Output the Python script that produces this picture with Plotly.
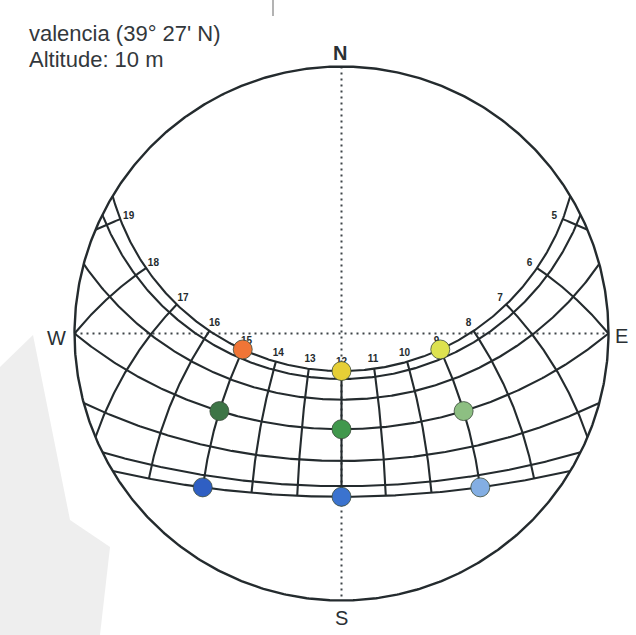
import numpy as np
import plotly.graph_objects as go

# Site and sun-path data (stereographic sun chart, solar time)
LATITUDE = 39.45                      # 39° 27' N
DAY_DECLINATIONS = [23.44, 20.1, 11.6, 0.0, -11.6, -20.1, -23.44]   # 21st of each month
HOURS = list(range(5, 20))
HOUR_LABELS = [str(h) for h in HOURS]

MARK_DECLINATIONS = [23.44, 23.44, 23.44, 0.0, 0.0, 0.0, -23.44, -23.44, -23.44]
MARK_HOURS = [9, 12, 15, 9, 12, 15, 9, 12, 15]
MARK_COLORS = ["#dde24f", "#e6cf36", "#f07536",
               "#8dbf82", "#40984c", "#3d7546",
               "#83aee3", "#3b73cf", "#2f5fc3"]

TITLE_LINES = ["valencia (39° 27' N)", "Altitude: 10 m"]
CARDINALS = ["N", "S", "E", "W"]

# Page geometry: horizon circle centre and radius in pixels
W_PX, H_PX = 636, 635
CX, CY, R = 341.5, 333.5, 267.0

LINE = "#242b2e"


def px(x, y):
    """pixel position -> data coordinates (horizon radius = 1)"""
    return (x - CX) / R, (CY - y) / R


def sun_xy(dec, hour):
    lat = np.radians(LATITUDE)
    d = np.radians(dec)
    h = np.radians((np.asarray(hour, dtype=float) - 12.0) * 15.0)
    east = -np.cos(d) * np.sin(h)
    north = np.cos(lat) * np.sin(d) - np.sin(lat) * np.cos(d) * np.cos(h)
    up = np.sin(lat) * np.sin(d) + np.cos(lat) * np.cos(d) * np.cos(h)
    return east / (1 + up), north / (1 + up), up


fig = go.Figure()

# cardinal axes (dotted)
fig.add_trace(go.Scatter(x=[0, 0], y=[1, -1], mode="lines",
                         line=dict(color="#3e4448", width=2, dash="2px,4px"),
                         hoverinfo="skip", showlegend=False))
fig.add_trace(go.Scatter(x=[-1, 1], y=[0, 0], mode="lines",
                         line=dict(color="#3e4448", width=2, dash="2px,4px"),
                         hoverinfo="skip", showlegend=False))

# day paths, from sunrise to sunset
lat_r = np.radians(LATITUDE)
for dec in DAY_DECLINATIONS:
    cos_h0 = -np.tan(lat_r) * np.tan(np.radians(dec))
    h0 = np.degrees(np.arccos(np.clip(cos_h0, -1, 1))) / 15.0
    hrs = np.linspace(12 - h0, 12 + h0, 400)
    x, y, _ = sun_xy(dec, hrs)
    fig.add_trace(go.Scatter(x=x, y=y, mode="lines",
                             line=dict(color=LINE, width=2.1),
                             hoverinfo="skip", showlegend=False))

# hour lines, between the solstices and clipped at the horizon
dmax, dmin = max(DAY_DECLINATIONS), min(DAY_DECLINATIONS)
for hr in HOURS:
    H = np.radians((hr - 12) * 15.0)
    d_h = np.degrees(np.arctan(-np.cos(H) / np.tan(lat_r)))
    lo = max(dmin, d_h)
    decs = np.linspace(lo, dmax, 200)
    x, y, _ = sun_xy(decs, np.full_like(decs, hr))
    fig.add_trace(go.Scatter(x=x, y=y, mode="lines",
                             line=dict(color=LINE, width=2.1),
                             hoverinfo="skip", showlegend=False))

# horizon
t = np.linspace(0, 2 * np.pi, 721)
fig.add_trace(go.Scatter(x=np.cos(t), y=np.sin(t), mode="lines",
                         line=dict(color=LINE, width=2.4),
                         hoverinfo="skip", showlegend=False))

# hour labels just north of the summer path
lx, ly = [], []
for hr in HOURS:
    x0, y0, _ = sun_xy(dmax, hr)
    x1, y1, _ = sun_xy(dmax + 2.0, hr)
    dx, dy = x1 - x0, y1 - y0
    n = np.hypot(dx, dy)
    off = 9.0 / R
    lx.append(float(x0 + dx / n * off))
    ly.append(float(y0 + dy / n * off))
fig.add_trace(go.Scatter(x=lx, y=ly, mode="text",
                         text=[f"<b>{s}</b>" for s in HOUR_LABELS],
                         textfont=dict(family="Arial", size=10, color="#242b2e"),
                         hoverinfo="skip", showlegend=False))

# marked sun positions
mx, my, _ = sun_xy(np.array(MARK_DECLINATIONS), np.array(MARK_HOURS))
fig.add_trace(go.Scatter(x=mx, y=my, mode="markers",
                         marker=dict(size=19, color=MARK_COLORS,
                                     line=dict(color="#3a4a3a", width=0.8)),
                         hoverinfo="skip", showlegend=False))

# cardinal letters
card_pos = {"N": (340, 53), "S": (341, 618), "E": (621, 336), "W": (56, 338)}
for c in CARDINALS:
    x, y = px(*card_pos[c])
    txt = f"<b>{c}</b>" if c == "N" else c
    fig.add_annotation(x=x, y=y, text=txt, showarrow=False,
                       font=dict(family="Arial", size=20, color="#2a3034"))

# title block
for i, line in enumerate(TITLE_LINES):
    fig.add_annotation(xref="paper", yref="paper", x=27 / W_PX, y=1 - (33 + 26 * i) / H_PX,
                       xanchor="left", yanchor="middle", text=line, showarrow=False,
                       font=dict(family="Arial", size=22, color="#33383c"))

# paper tint at the lower left
poly = [(0, 367), (33, 335), (70, 520), (110, 547), (100, 635), (0, 635)]
path = "M " + " L ".join(f"{x / W_PX:.4f},{1 - y / H_PX:.4f}" for x, y in poly) + " Z"
fig.add_shape(type="path", path=path, xref="paper", yref="paper",
              fillcolor="#eeeeee", line=dict(width=0), layer="below")
fig.add_shape(type="line", xref="paper", yref="paper",
              x0=273 / W_PX, x1=273 / W_PX, y0=1, y1=1 - 16 / H_PX,
              line=dict(color="#9a9a9a", width=1.5), layer="below")

x_lo, _ = px(0, 0)
x_hi, _ = px(W_PX, 0)
_, y_hi = px(0, 0)
_, y_lo = px(0, H_PX)
fig.update_layout(
    width=W_PX, height=H_PX,
    margin=dict(l=0, r=0, t=0, b=0),
    paper_bgcolor="white", plot_bgcolor="white",
    xaxis=dict(range=[x_lo, x_hi], visible=False, fixedrange=True),
    yaxis=dict(range=[y_lo, y_hi], visible=False, fixedrange=True),
    showlegend=False,
)

fig.write_html("out.html")
